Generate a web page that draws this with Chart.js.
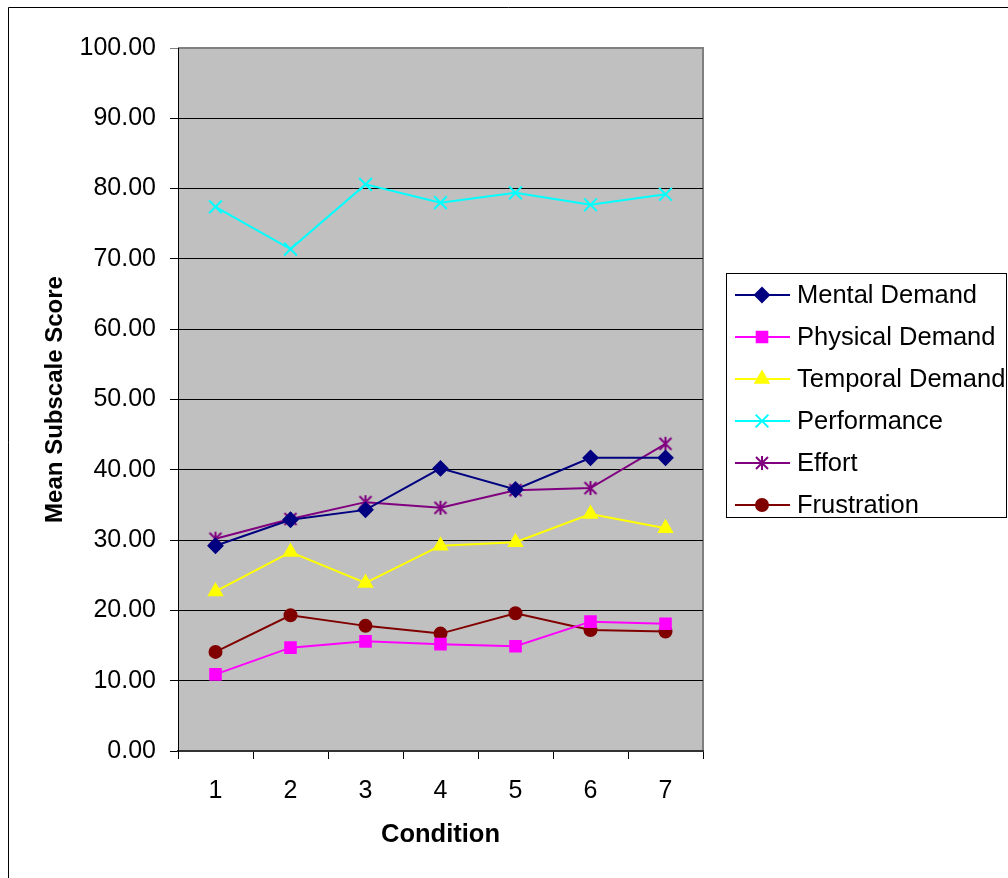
<!DOCTYPE html>
<html>
<head>
<meta charset="utf-8">
<script src="https://cdn.jsdelivr.net/npm/chart.js@4.4.1/dist/chart.umd.min.js"></script>
<style>
  html, body { margin: 0; padding: 0; background: #fff; overflow: hidden; }
  canvas { display: block; }
</style>
</head>
<body>
<canvas id="chart" width="1008" height="878"></canvas>
<script>
// values
const conditions = ['1', '2', '3', '4', '5', '6', '7'];
const mentalDemand = [29.2, 32.9, 34.3, 40.2, 37.2, 41.7, 41.7];
const physicalDemand = [10.9, 14.7, 15.6, 15.2, 14.9, 18.4, 18.1];
const temporalDemand = [22.7, 28.3, 23.9, 29.2, 29.7, 33.7, 31.7];
const performance = [77.4, 71.4, 80.6, 78.0, 79.4, 77.7, 79.2];
const effort = [30.2, 33.0, 35.4, 34.6, 37.1, 37.4, 43.7];
const frustration = [14.1, 19.3, 17.8, 16.7, 19.6, 17.2, 17.0];

const FONT = '"Liberation Sans", Arial, sans-serif';

// excel style asterisk: an X with a vertical bar
function makeStar(color) {
    const c = document.createElement('canvas');
    c.width = 16; c.height = 16;
    const g = c.getContext('2d');
    g.strokeStyle = color;
    g.lineWidth = 2;
    g.beginPath();
    g.moveTo(2, 2); g.lineTo(14, 14);
    g.moveTo(14, 2); g.lineTo(2, 14);
    g.moveTo(8, 1); g.lineTo(8, 15);
    g.stroke();
    return c;
}

function series(label, data, color, style, radius) {
    return {
        label: label,
        data: data,
        borderColor: color,
        backgroundColor: color,
        pointBackgroundColor: color,
        pointBorderColor: color,
        pointStyle: style,
        pointRadius: radius,
        pointHoverRadius: radius,
        pointBorderWidth: 2,
        borderWidth: 2,
        tension: 0
    };
}

const datasets = [
    series('Mental Demand', mentalDemand, '#000080', 'rectRot', 7),
    series('Physical Demand', physicalDemand, '#FF00FF', 'rect', 7.5),
    series('Temporal Demand', temporalDemand, '#FFFF00', 'triangle', 7.5),
    series('Performance', performance, '#00FFFF', 'crossRot', 9),
    series('Effort', effort, '#800080', makeStar('#800080'), 8),
    series('Frustration', frustration, '#800000', 'circle', 6)
];

const backdrop = {
    id: 'backdrop',
    beforeDraw(chart) {
        const ctx = chart.ctx;
        const a = chart.chartArea;
        ctx.save();
        ctx.fillStyle = '#fff';
        ctx.fillRect(0, 0, chart.width, chart.height);
        // outer frame, only left and top show
        ctx.strokeStyle = '#000';
        ctx.lineWidth = 1;
        ctx.beginPath();
        ctx.moveTo(8.5, chart.height);
        ctx.lineTo(8.5, 7.5);
        ctx.lineTo(chart.width, 7.5);
        ctx.stroke();
        ctx.fillStyle = '#C0C0C0';
        ctx.fillRect(a.left, a.top, a.right - a.left, a.bottom - a.top);
        ctx.strokeStyle = '#808080';
        ctx.lineWidth = 2;
        ctx.beginPath();
        ctx.moveTo(a.left, a.top);
        ctx.lineTo(a.right, a.top);
        ctx.lineTo(a.right, a.bottom);
        ctx.stroke();
        ctx.restore();
    }
};

// legend box with line + marker samples
const sideLegend = {
    id: 'sideLegend',
    afterDraw(chart) {
        const ctx = chart.ctx;
        ctx.save();
        ctx.strokeStyle = '#000';
        ctx.lineWidth = 1;
        ctx.strokeRect(726.5, 273.5, 280, 244);
        ctx.font = '25.5px ' + FONT;
        ctx.textBaseline = 'middle';
        chart.data.datasets.forEach((ds, i) => {
            const y = 295 + i * 42;
            ctx.strokeStyle = ds.borderColor;
            ctx.fillStyle = ds.borderColor;
            ctx.lineWidth = 2;
            ctx.beginPath();
            ctx.moveTo(735, y);
            ctx.lineTo(790, y);
            ctx.stroke();
            Chart.helpers.drawPoint(ctx, {
                pointStyle: ds.pointStyle,
                radius: ds.pointRadius,
                borderWidth: 2,
                rotation: 0
            }, 762, y);
            ctx.fillStyle = '#000';
            ctx.fillText(ds.label, 797, y + 1);
        });
        ctx.restore();
    }
};

const chart = new Chart(document.getElementById('chart'), {
    type: 'line',
    data: { labels: conditions, datasets: datasets },
    options: {
        responsive: false,
        animation: false,
        devicePixelRatio: 1,
        layout: { padding: { top: 48, right: 305, bottom: 28, left: 0 } },
        plugins: {
            legend: { display: false },
            tooltip: { enabled: false }
        },
        scales: {
            x: {
                offset: true,
                grid: {
                    offset: true,
                    drawOnChartArea: false,
                    tickLength: 8,
                    color: '#000'
                },
                border: { color: '#333', width: 2 },
                ticks: { color: '#000', font: { family: FONT, size: 25 }, padding: 17 },
                title: {
                    display: true,
                    text: 'Condition',
                    color: '#000',
                    font: { family: FONT, size: 25.5, weight: 'bold' },
                    padding: 0
                },
                afterFit(scale) { scale.height = 99; }
            },
            y: {
                min: 0,
                max: 100,
                ticks: {
                    stepSize: 10,
                    color: '#000',
                    font: { family: FONT, size: 25 },
                    padding: 14,
                    callback: v => v.toFixed(2)
                },
                grid: {
                    tickLength: 8,
                    color: ctx => ctx.tick && ctx.tick.value === 100 ? '#808080' : '#000'
                },
                border: { color: '#000', width: 1 },
                title: {
                    display: true,
                    text: 'Mean Subscale Score',
                    color: '#000',
                    font: { family: FONT, size: 24, weight: 'bold' },
                    padding: { top: 41, bottom: 0 }
                },
                afterFit(scale) { scale.width = 178; }
            }
        }
    },
    plugins: [backdrop, sideLegend]
});
</script>
</body>
</html>
